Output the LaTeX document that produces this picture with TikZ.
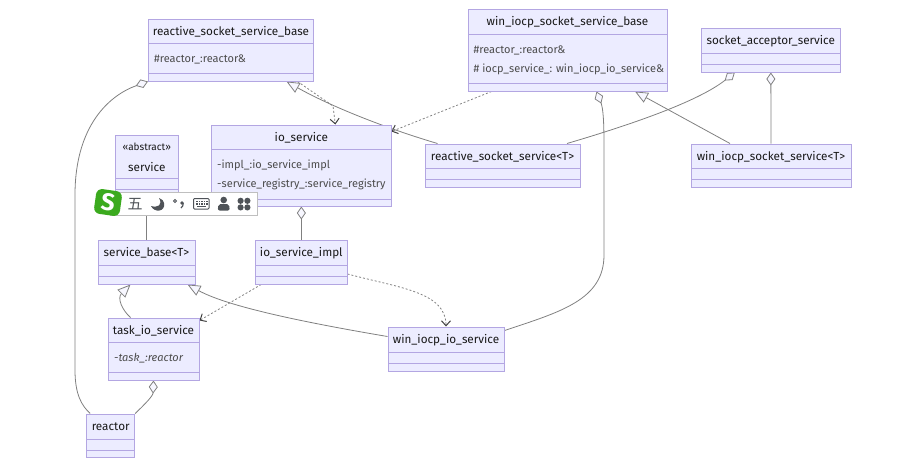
\documentclass[tikz,border=0pt]{standalone}
\usepackage{fontspec}
\setmainfont{Fira Sans}
\newfontfamily\cjkfont{Noto Sans CJK SC}
\usetikzlibrary{arrows.meta,backgrounds}
\definecolor{classfill}{HTML}{ECECFF}
\definecolor{classline}{HTML}{B3A6E2}
\definecolor{linkline}{HTML}{808080}
\definecolor{iconfill}{HTML}{4F5358}
\definecolor{imegreen}{HTML}{3BAA1E}
\tikzset{
classbox/.style={draw=classline, fill=classfill, line width=1pt, inner sep=0pt},
divider/.style={classline, line width=1pt},
title/.style={font=\fontsize{11.7}{13}\selectfont, text=black!90, inner sep=0pt},
member/.style={font=\fontsize{11}{13}\selectfont, text=black!70, anchor=west, inner sep=0pt},
link/.style={linkline, line width=0.8pt},
dep/.style={link, dash pattern=on 2pt off 2pt, -{Straight Barb[black!75, length=5pt, width=9pt, line width=1pt]}},
ext/.style={link, -{Triangle[fill=classfill!40, length=13pt, width=11pt]}},
agg/.style={link, {Diamond[fill=classfill!40, length=13pt, width=9pt]}-}
}
% name, x1, y1, x2, y2, divider 1, divider 2
\newcommand{\classnode}[7]{
\node[classbox, minimum width={(#4-#2)*1pt}, minimum height={(#5-#3)*1pt}] (#1) at ({(#2+#4)/2},{(#3+#5)/2}) {};
\draw[divider] (#2,#6) -- (#4,#6);
\draw[divider] (#2,#7) -- (#4,#7);
}
\begin{document}
\begin{tikzpicture}[x=1pt, y=-1pt]
\useasboundingbox (0,0) rectangle (914,461);
\classnode{rbase}{148.5}{19}{313}{81}{43}{73}
\classnode{ioservice}{211.7}{125}{391}{206}{149}{199}
\classnode{service}{115.7}{135}{178}{200}{178}{189}
\classnode{sbase}{98}{240}{195}{284}{265}{276}
\classnode{impl}{255.7}{240}{347}{284}{265}{276}
\classnode{task}{108}{318}{199}{380}{342}{372}
\classnode{reactor}{86.7}{414}{134.7}{457}{439}{450}
\classnode{wbase}{468}{9}{667}{91}{34}{83}
\classnode{sacc}{701.7}{28}{840}{72}{53}{64}
\classnode{rsocket}{425}{144}{580}{187}{168}{179}
\classnode{wsocket}{691}{144}{851}{187}{168}{179}
\classnode{wio}{388}{327}{504}{371}{352}{363}

% titles
\node[title] (rbasetitle) at (231,32) {reactive\_socket\_service\_base};
\node[title] (iotitle) at (301.3,138) {io\_service};
\node[title, font=\fontsize{10}{12}\selectfont] (stereo) at (146.8,147) {«abstract»};
\node[title] (servicetitle) at (146.8,167) {service};
\node[title] (sbasetitle) at (146.5,253) {service\_base<T>};
\node[title] (impltitle) at (301.3,253) {io\_service\_impl};
\node[title] (tasktitle) at (153.5,331) {task\_io\_service};
\node[title] (reactortitle) at (110.7,427) {reactor};
\node[title] (wbasetitle) at (567.5,22) {win\_iocp\_socket\_service\_base};
\node[title] (sacctitle) at (770.8,41) {socket\_acceptor\_service};
\node[title] (rsockettitle) at (502.5,157) {reactive\_socket\_service<T>};
\node[title] (wsockettitle) at (771,157) {win\_iocp\_socket\_service<T>};
\node[title] (wiotitle) at (446,340) {win\_iocp\_io\_service};

% members
\node[member] (rbasereactor) at (154,59) {\#reactor\_:reactor\&};
\node[member] (ioimpl) at (217,165.5) {-impl\_:io\_service\_impl};
\node[member] (ioregistry) at (217,184) {-service\_registry\_:service\_registry};
\node[member] (tasktask) at (114,358) {\itshape -task\_:reactor};
\node[member] (wbasereactor) at (473.5,50) {\#reactor\_:reactor\&};
\node[member] (wbaseiocp) at (473.5,69) {\# iocp\_service\_: win\_iocp\_io\_service\&};

\begin{scope}[on background layer]
\draw[agg] (rbase.south west) .. controls (110,95) and (75,125) .. (75,195) -- (75,370) .. controls (75,395) and (82,406) .. ([xshift=4]reactor.north west);
\draw[ext] (service.south |- sbase.north) -- (service.south);
\draw[agg] (ioservice.south) -- (impl.north);
\draw[ext] ([xshift=-23]task.north) .. controls (122,310) and (117,298) .. ([xshift=-16]sbase.south);
\draw[ext] ([yshift=-10]wio.north west) .. controls (290,320) and (225,305) .. ([xshift=-8]sbase.south east);
\draw[dep] ([xshift=6]impl.south west) -- ([yshift=-3]task.north east);
\draw[dep] ([yshift=-12]impl.east) .. controls (400,288) and (446,292) .. (wio.north);
\draw[agg] (task.south) .. controls (153,396) and (145,404) .. (reactor.north east);
\draw[dep] ([xshift=24]wbase.south west) -- ([yshift=-7]ioservice.north east);
\draw[ext] ([xshift=13]rsocket.north west) .. controls (385,128) and (330,106) .. ([xshift=-27]rbase.south east);
\draw[dep] ([xshift=-16]rbase.south east) -- (333,106) -- ([xshift=34]ioservice.north);
\draw[agg] ([xshift=29]wbase.south) .. controls (603,108) and (604,120) .. (604,145) -- (604,255) .. controls (604,300) and (560,312) .. ([yshift=-4]wio.north east);
\draw[ext] ([xshift=-41]wsocket.north) -- ([xshift=67.5]wbase.south);
\draw[agg] ([xshift=-36]sacc.south) .. controls (700,100) and (640,122) .. ([xshift=64.5]rsocket.north);
\draw[agg] (sacc.south) -- (wsocket.north);
\end{scope}

% input method bar
\draw[fill=white, draw=black!25, line width=0.8pt] (110,192.5) rectangle (257,215.5);
\node[fill=imegreen, rounded corners=6pt, minimum width=26pt, minimum height=25pt, rotate=-8, inner sep=0pt, text=white, font=\fontsize{24}{24}\bfseries\selectfont] (imelogo) at (108,202.5) {S};
\node[text=iconfill, inner sep=0pt, font=\cjkfont\fontsize{15}{15}\selectfont] (imewu) at (135,204) {五};
\fill[iconfill] (159,198) .. controls (163,205) and (158,208) .. (151,206) .. controls (154,213) and (166,212) .. (164,203) .. controls (164,201) and (162,199) .. (159,198);
\draw[iconfill, line width=0.8pt] (175,201) circle (1.5pt);
\fill[iconfill] (182,203) circle (1.8pt);
\draw[iconfill, line width=1.2pt] (183.2,203) .. controls (183.5,205) and (182.5,207) .. (181,208);
\draw[iconfill, line width=1pt, rounded corners=1pt] (193.5,198.5) rectangle (209,209);
\foreach \x in {196,198.5,...,206.5}{
\fill[iconfill] (\x,200.5) rectangle +(1.5,1.5);
\fill[iconfill] (\x,203) rectangle +(1.5,1.5);
}
\fill[iconfill] (197,205.6) rectangle (206,207);
\fill[iconfill] (223.7,200) circle (3.3pt);
\fill[iconfill, rounded corners=2pt] (217.7,210.5) -- (218.5,204) -- (229,204) -- (229.8,210.5) -- cycle;
\foreach \x/\y in {240.6/200.8,247.4/200.8,240.6/207.4,247.4/207.4}{
\fill[iconfill] (\x,\y) circle (3.1pt);
}
\end{tikzpicture}
\end{document}
